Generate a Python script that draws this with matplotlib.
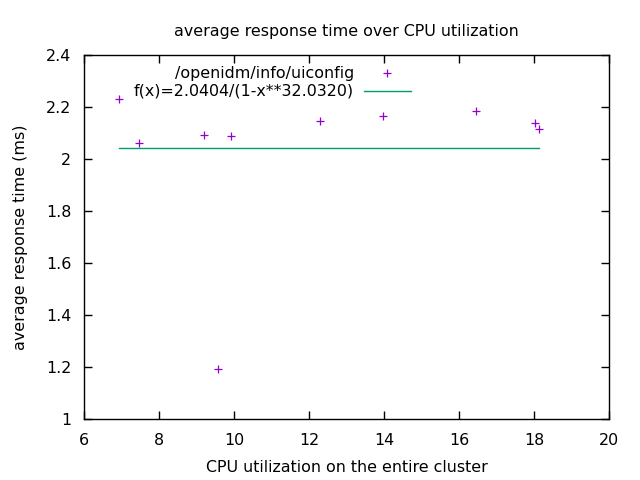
'''
average response time over CPU utilization
'''
# import libraries ----------------------------------------
import numpy as np
import matplotlib
matplotlib.use('Agg')
import matplotlib.pyplot as plt
from matplotlib.ticker import MultipleLocator

# data ----------------------------------------------------
cpu_util = [6.94, 7.47, 9.21, 9.91, 9.56, 12.30, 13.96, 16.45, 18.03, 18.13]
resp_time = [2.231, 2.061, 2.092, 2.088, 1.191, 2.147, 2.165, 2.185, 2.139, 2.116]

# fit parameters:
fit_a = 2.0404
fit_b = 32.0320

# fit curve (x as fraction of 100 %):
x_fit = np.linspace(min(cpu_util), max(cpu_util), 200)
y_fit = fit_a / (1 - (x_fit / 100) ** fit_b)

# plot ----------------------------------------------------
purple = '#9400d3'
green = '#009e73'
fs = 11.4

fig = plt.figure(figsize=(6.4, 4.8), dpi=100)
ax = fig.add_axes([84 / 640, 1 - 419 / 480, 525 / 640, 364 / 480])

ax.plot(cpu_util, resp_time, '+', color=purple, ms=6, mew=0.9)
ax.plot(x_fit, y_fit, '-', color=green, lw=1)

# legend (gnuplot style, text right aligned):
ax.text(0.514, 0.9505, '/openidm/info/uiconfig', transform=ax.transAxes,
        ha='right', va='center', fontsize=fs)
ax.plot([0.577], [0.9505], '+', color=purple, ms=6, mew=0.9,
        transform=ax.transAxes)
ax.text(0.514, 0.901, 'f(x)=2.0404/(1-x**32.0320)', transform=ax.transAxes,
        ha='right', va='center', fontsize=fs)
ax.plot([0.533, 0.623], [0.901, 0.901], '-', color=green, lw=1,
        transform=ax.transAxes)

# set parameters:
ax.set_xlim(6, 20)
ax.set_ylim(1, 2.4)
ax.xaxis.set_major_locator(MultipleLocator(2))
ax.set_yticks(np.arange(1, 2.41, 0.2))
ax.set_yticklabels(['1', '1.2', '1.4', '1.6', '1.8', '2', '2.2', '2.4'])
ax.tick_params(which='both', direction='in', top=True, right=True,
               labelsize=fs, length=6, width=1)
ax.tick_params('x', pad=10)
ax.tick_params('y', pad=9)
for s in ax.spines.values():
    s.set_linewidth(1)
ax.set_title('average response time over CPU utilization', fontsize=fs, pad=14)
ax.set_xlabel('CPU utilization on the entire cluster', fontsize=fs, labelpad=9)
ax.set_ylabel('average response time (ms)', fontsize=fs, labelpad=13)

# save:
plt.savefig('out.png', dpi=100)

# end program ---------------------------------------------
